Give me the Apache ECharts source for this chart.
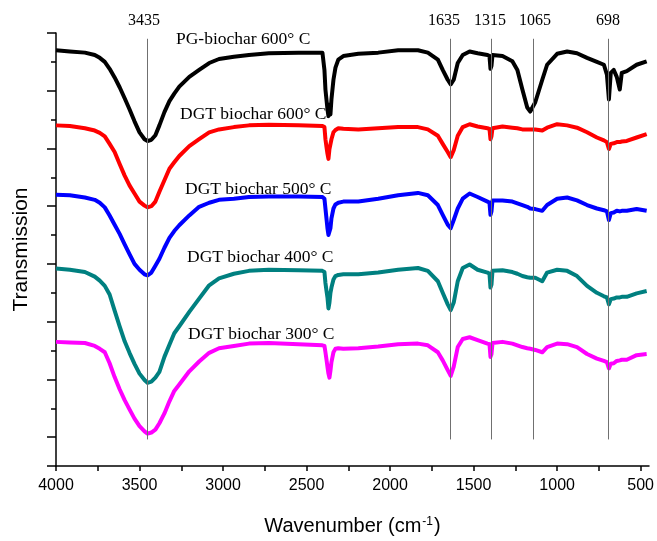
<!DOCTYPE html>
<html>
<head>
<meta charset="utf-8">
<script src="https://cdn.jsdelivr.net/npm/echarts@6/dist/echarts.min.js"></script>
<style>
  html, body { margin: 0; padding: 0; background: #fff; }
  #main { width: 657px; height: 541px; }
</style>
</head>
<body>
<div id="main"></div>
<script>
// wavenumbers (cm-1), shared by every spectrum
const wavenumbers = [4000, 3917, 3827, 3768, 3738, 3708, 3679, 3649, 3619, 3589,
  3560, 3530, 3500, 3470, 3452, 3429, 3405, 3381, 3351, 3321,
  3292, 3262, 3202, 3143, 3083, 3024, 2935, 2845, 2726, 2548,
  2405, 2393, 2387, 2381, 2375, 2369, 2363, 2357, 2351, 2339,
  2327, 2310, 2280, 2190, 2071, 1952, 1833, 1774, 1714, 1685,
  1655, 1637, 1619, 1595, 1565, 1524, 1476, 1417, 1405, 1399,
  1393, 1387, 1327, 1268, 1238, 1208, 1179, 1161, 1131, 1089,
  1060, 1000, 940, 881, 821, 762, 720, 702, 690, 679,
  661, 643, 625, 613, 583, 524, 464];

// transmission (arbitrary units, curves stacked with offsets)
const pg600 = [67.0, 66.8, 66.6, 66.2, 65.7, 65.0, 63.8, 62.3, 60.6, 58.7,
  56.8, 54.7, 52.8, 51.6, 51.3, 51.5, 52.3, 54.0, 56.3, 58.2,
  59.5, 60.7, 62.4, 63.6, 64.8, 65.5, 65.9, 66.2, 66.5, 66.6,
  66.6, 63.6, 60.2, 58.5, 56.8, 55.6, 57.6, 55.9, 58.5, 61.9,
  64.0, 65.4, 66.0, 66.4, 66.6, 67.0, 67.0, 66.6, 65.4, 63.6,
  61.9, 61.1, 61.9, 64.8, 66.2, 66.8, 66.5, 66.2, 66.0, 63.8,
  64.3, 66.2, 66.0, 65.1, 63.6, 60.2, 57.1, 56.4, 58.0, 61.9,
  64.5, 66.4, 66.8, 66.5, 65.7, 65.0, 64.5, 62.8, 58.5, 63.1,
  63.6, 62.4, 60.2, 63.1, 63.4, 64.5, 65.1];
const dgt600 = [54.0, 53.9, 53.5, 53.1, 52.7, 52.1, 50.8, 49.4, 47.3, 45.3,
  43.6, 42.2, 40.8, 40.1, 39.8, 40.0, 40.8, 42.5, 44.5, 46.5,
  47.6, 48.7, 50.4, 51.6, 52.8, 53.3, 53.7, 54.0, 54.1, 54.0,
  53.9, 53.7, 51.6, 50.3, 49.1, 48.2, 49.9, 49.6, 51.6, 52.8,
  53.2, 53.5, 53.4, 53.3, 53.5, 53.7, 53.7, 53.3, 52.2, 50.8,
  49.4, 48.5, 49.7, 52.2, 53.7, 54.2, 53.8, 53.5, 53.4, 51.6,
  52.1, 53.5, 53.8, 53.6, 53.5, 53.3, 53.3, 53.3, 53.3, 53.1,
  53.6, 54.2, 54.0, 53.6, 52.8, 51.9, 51.4, 51.1, 49.9, 50.8,
  50.9, 51.1, 51.1, 51.2, 51.3, 51.9, 52.5];
const dgt500 = [42.0, 41.9, 41.5, 41.1, 40.6, 39.8, 38.4, 36.8, 35.2, 33.4,
  31.7, 30.0, 29.0, 28.2, 28.0, 28.5, 29.7, 30.9, 32.8, 34.5,
  35.7, 36.7, 38.4, 39.9, 40.6, 41.1, 41.3, 41.6, 41.7, 41.7,
  41.6, 41.3, 39.6, 37.9, 36.2, 35.0, 34.8, 36.2, 37.9, 39.6,
  40.3, 40.6, 40.8, 40.8, 41.3, 41.9, 42.3, 41.9, 40.2, 38.5,
  36.8, 36.2, 37.6, 39.6, 41.3, 42.2, 41.6, 40.8, 40.6, 38.5,
  39.1, 41.0, 41.0, 40.8, 40.5, 40.2, 39.9, 39.6, 39.5, 39.2,
  40.2, 41.3, 41.5, 41.0, 40.2, 39.6, 39.3, 39.1, 37.6, 38.8,
  38.9, 39.2, 39.1, 39.2, 39.2, 39.5, 39.2];
const dgt400 = [29.2, 29.0, 28.6, 27.8, 27.1, 26.2, 24.7, 21.9, 19.2, 16.6,
  14.6, 12.7, 11.0, 9.9, 9.4, 9.6, 10.3, 11.3, 13.9, 16.0,
  18.0, 19.2, 21.7, 24.0, 26.3, 27.5, 28.3, 28.8, 29.0, 28.9,
  28.8, 28.6, 26.7, 25.4, 24.2, 22.3, 23.3, 25.0, 25.9, 27.3,
  27.9, 28.1, 28.2, 28.2, 28.5, 29.0, 29.3, 28.8, 27.0, 25.0,
  23.0, 22.0, 23.3, 27.0, 29.3, 29.9, 29.0, 28.5, 28.3, 25.9,
  26.4, 28.8, 28.9, 28.6, 28.3, 27.9, 27.7, 27.6, 27.6, 27.0,
  28.5, 29.0, 28.8, 27.9, 26.2, 25.0, 24.4, 24.2, 23.0, 23.9,
  24.0, 24.2, 24.2, 24.3, 24.3, 24.9, 25.3];
const dgt300 = [16.5, 16.4, 16.3, 15.8, 15.3, 14.7, 12.8, 10.4, 8.3, 6.4,
  4.8, 3.2, 1.9, 1.0, 0.6, 0.8, 1.3, 2.4, 4.1, 6.2,
  8.0, 9.1, 11.4, 13.1, 14.6, 15.4, 15.8, 16.2, 16.3, 16.1,
  15.9, 15.8, 14.7, 13.5, 12.2, 11.0, 10.3, 11.5, 13.0, 14.7,
  15.3, 15.4, 15.3, 15.4, 15.7, 16.1, 16.2, 15.9, 14.7, 13.3,
  11.6, 10.6, 12.2, 15.6, 17.0, 17.3, 16.8, 16.2, 16.1, 13.9,
  14.4, 16.3, 16.5, 16.2, 15.9, 15.6, 15.4, 15.3, 15.1, 14.7,
  15.6, 16.2, 16.1, 15.6, 14.4, 13.6, 13.2, 13.0, 11.9, 12.7,
  12.8, 13.2, 13.3, 13.4, 13.4, 14.2, 14.4];

const seriesNames = ['PG-biochar 600° C', 'DGT biochar 600° C', 'DGT biochar 500° C', 'DGT biochar 400° C', 'DGT biochar 300° C'];
const seriesColors = ['#000000', '#ff0000', '#0000ff', '#008080', '#ff00ff'];
const seriesValues = [pg600, dgt600, dgt500, dgt400, dgt300];

// peak marker lines: where the line is drawn and the text written above it
const peakLines = [3454, 1638, 1397, 1145, 693];
const peakLabels = ['3435', '1635', '1315', '1065', '698'];
const peakLabelX = [144, 444, 490, 535, 608];

const xTicks = [4000, 3750, 3500, 3250, 3000, 2750, 2500, 2250, 2000, 1750, 1500, 1250, 1000, 750, 500];

const serif = '"Liberation Serif", "Times New Roman", serif';
const sans = '"Liberation Sans", Arial, sans-serif';

// labels placed beside each curve (left edge x, middle y)
const seriesLabelPos = [[176, 39], [180, 114], [185, 189], [187, 257], [188, 334]];

const chart = echarts.init(document.getElementById('main'));

const series = seriesValues.map((vals, i) => ({
  name: seriesNames[i],
  type: 'line',
  xAxisIndex: 0,
  yAxisIndex: 0,
  showSymbol: false,
  symbol: 'none',
  smooth: false,
  lineStyle: { color: seriesColors[i], width: 4, join: 'round' },
  itemStyle: { color: seriesColors[i] },
  z: 3,
  data: wavenumbers.map((w, j) => [-w, vals[j]])
}));

// thin grey peak lines
series.push({
  type: 'line',
  data: [],
  silent: true,
  z: 4,
  markLine: {
    silent: true,
    symbol: ['none', 'none'],
    label: { show: false },
    lineStyle: { color: '#707070', width: 1, type: 'solid' },
    emphasis: { disabled: true },
    data: peakLines.map(w => [{ coord: [-w, 69] }, { coord: [-w, -0.4] }])
  }
});

const graphic = [];
peakLabels.forEach((t, i) => {
  graphic.push({
    type: 'text', x: peakLabelX[i], y: 21,
    style: { text: t, font: '16px ' + serif, fill: '#000', align: 'center', verticalAlign: 'middle' }
  });
});
seriesNames.forEach((t, i) => {
  graphic.push({
    type: 'text', x: seriesLabelPos[i][0], y: seriesLabelPos[i][1],
    style: { text: t, font: '17.5px ' + serif, fill: '#000', align: 'left', verticalAlign: 'middle' }
  });
});

chart.setOption({
  animation: false,
  backgroundColor: '#fff',
  grid: { left: 56, right: 6, top: 33, bottom: 72 },
  xAxis: {
    type: 'value',
    min: -4000,
    max: -450,
    interval: 250,
    axisLine: { show: true, onZero: false, lineStyle: { color: '#000', width: 1.5 } },
    axisTick: { show: true, length: 5, lineStyle: { color: '#000', width: 1.5 }, customValues: xTicks.map(v => -v) },
    axisLabel: {
      color: '#000', fontSize: 16, fontFamily: sans, margin: 12,
      formatter: v => (Math.abs(v) % 500 === 0 ? String(Math.abs(v)) : '')
    },
    splitLine: { show: false },
    name: 'Wavenumber (cm{sup|-1})',
    nameLocation: 'middle',
    nameGap: 50,
    nameTextStyle: {
      color: '#000', fontSize: 20, fontFamily: sans,
      rich: { sup: { fontSize: 12, fontFamily: sans, color: '#000', verticalAlign: 'top', padding: [0, 1, 8, 1] } }
    }
  },
  yAxis: [
    {
      type: 'value',
      min: -5,
      max: 70,
      interval: 5,
      axisLine: { show: true, onZero: false, lineStyle: { color: '#000', width: 1.5 } },
      axisTick: { show: true, length: 5, lineStyle: { color: '#000', width: 1.5 } },
      axisLabel: { show: false },
      splitLine: { show: false },
      name: 'Transmission',
      nameLocation: 'middle',
      nameGap: 24,
      nameTextStyle: { color: '#000', fontSize: 21, fontFamily: sans }
    },
    {
      // longer major ticks, counted down from the top
      type: 'value',
      inverse: true,
      position: 'left',
      offset: 0,
      min: 0,
      max: 75,
      interval: 10,
      axisLine: { show: false },
      axisTick: { show: true, length: 9, lineStyle: { color: '#000', width: 1.5 } },
      axisLabel: { show: false },
      splitLine: { show: false }
    }
  ],
  graphic: graphic,
  series: series
});
</script>
</body>
</html>
